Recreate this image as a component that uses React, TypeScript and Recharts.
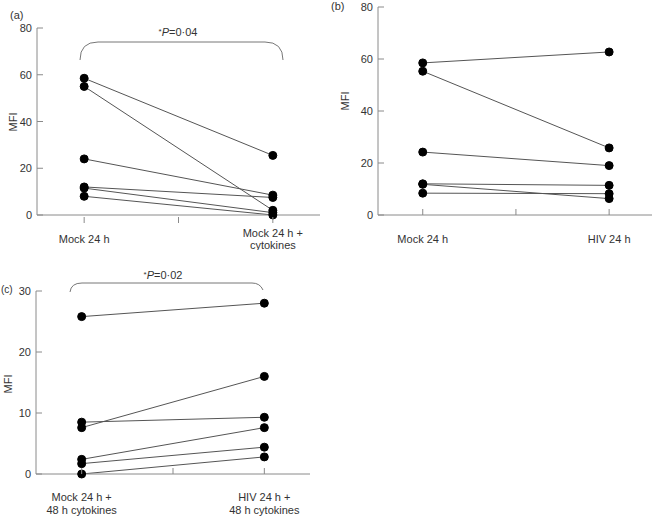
import React from 'react';
import { LineChart, Line, XAxis, YAxis } from 'recharts';

// MFI per donor, left condition -> right condition
const A_LEFT = [58.5, 55, 24, 12, 11.5, 8];
const A_RIGHT = [25.5, 2, 8.5, 7.5, 1, 0];
const A_LABELS = [['Mock 24 h'], ['Mock 24 h +', 'cytokines']];

const B_LEFT = [58.5, 55.3, 24.2, 12, 11.8, 8.4];
const B_RIGHT = [62.7, 25.8, 19, 11.4, 6.3, 8.2];
const B_LABELS = [['Mock 24 h'], ['HIV 24 h']];

const C_LEFT = [25.8, 7.6, 8.5, 2.4, 1.7, 0];
const C_RIGHT = [28, 16, 9.3, 7.6, 4.4, 2.8];
const C_LABELS = [['Mock 24 h +', '48 h cytokines'], ['HIV 24 h +', '48 h cytokines']];

const TICKS_80 = [0, 20, 40, 60, 80];
const TICKS_30 = [0, 10, 20, 30];

const FONT = '"Liberation Sans", Arial, Helvetica, sans-serif';
const AXIS = '#8a8a8a';
const TEXT = '#333';

const toRows = (left: number[], right: number[]) => {
  const a: any = { x: 1 };
  const b: any = { x: 2 };
  left.forEach((v, i) => { a['s' + i] = v; b['s' + i] = right[i]; });
  return [a, b];
};

const YTick = (props: any) => {
  const { x, y, payload } = props;
  return (
    <g>
      <line x1={x} x2={x + 6} y1={y} y2={y} stroke={AXIS} />
      <text x={x - 5} y={y + 4} textAnchor="end" fontSize={11} fill={TEXT} fontFamily={FONT}>
        {payload.value}
      </text>
    </g>
  );
};

const makeXTick = (labels: string[][], tickOut: boolean, center: number, gap: number) => (props: any) => {
  const { x, y, payload } = props;
  const lines = payload.value === 1 ? labels[0] : payload.value === 2 ? labels[1] : [];
  return (
    <g>
      {tickOut
        ? <line x1={x} x2={x} y1={y + 2} y2={y + 8} stroke={AXIS} />
        : <line x1={x} x2={x} y1={y - 6} y2={y} stroke={AXIS} />}
      {lines.map((t, i) => (
        <text key={i} x={x} y={y + center + (i - (lines.length - 1) / 2) * gap + 4}
          textAnchor="middle" fontSize={11} fill={TEXT} fontFamily={FONT}>
          {t}
        </text>
      ))}
    </g>
  );
};

interface PanelProps {
  left: number; top: number; width: number; height: number;
  marginTop: number; marginRight: number; yWidth: number; xHeight: number;
  xDomain: [number, number]; yTicks: number[];
  data: any[]; n: number; xTick: any;
}

const Panel = (p: PanelProps) => (
  <div style={{ position: 'absolute', left: p.left, top: p.top }}>
    <LineChart width={p.width} height={p.height} data={p.data}
      margin={{ top: p.marginTop, right: p.marginRight, left: 0, bottom: 0 }}>
      <XAxis dataKey="x" type="number" domain={p.xDomain} ticks={[1, 1.5, 2]}
        height={p.xHeight} tickLine={false} tickSize={0} tickMargin={0}
        stroke={AXIS} tick={p.xTick} interval={0} />
      <YAxis type="number" domain={[0, p.yTicks[p.yTicks.length - 1]]} ticks={p.yTicks}
        width={p.yWidth} tickLine={false} tickSize={0} tickMargin={0}
        stroke={AXIS} tick={<YTick />} interval={0} />
      {Array.from({ length: p.n }).map((_, i) => (
        <Line key={i} dataKey={'s' + i} stroke="#555" strokeWidth={1}
          dot={{ r: 4, fill: '#000', stroke: '#000', strokeWidth: 1 }}
          isAnimationActive={false} />
      ))}
    </LineChart>
  </div>
);

export default function App() {
  return (
    <div style={{ position: 'absolute', left: 0, top: 0, width: 657, height: 516, background: '#fff', fontFamily: FONT }}>
      <Panel left={0} top={0} width={330} height={250} marginTop={28} marginRight={10}
        yWidth={37} xHeight={35} xDomain={[0.75, 2.25]} yTicks={TICKS_80}
        data={toRows(A_LEFT, A_RIGHT)} n={A_LEFT.length}
        xTick={makeXTick(A_LABELS, true, 24, 12)} />
      <Panel left={340} top={0} width={317} height={250} marginTop={7} marginRight={5}
        yWidth={38} xHeight={35} xDomain={[0.76, 2.23]} yTicks={TICKS_80}
        data={toRows(B_LEFT, B_RIGHT)} n={B_LEFT.length}
        xTick={makeXTick(B_LABELS, false, 24, 12)} />
      <Panel left={0} top={250} width={320} height={266} marginTop={41} marginRight={10}
        yWidth={36} xHeight={42} xDomain={[0.75, 2.25]} yTicks={TICKS_30}
        data={toRows(C_LEFT, C_RIGHT)} n={C_LEFT.length}
        xTick={makeXTick(C_LABELS, false, 29.5, 13)} />
      <svg width={657} height={516} style={{ position: 'absolute', left: 0, top: 0, pointerEvents: 'none' }}
        fontFamily={FONT} fill={TEXT}>
        <text x={10} y={19} fontSize={11}>(a)</text>
        <text x={331} y={10} fontSize={11}>(b)</text>
        <text x={1} y={293} fontSize={10}>(c)</text>
        <text transform="translate(17,122) rotate(-90)" textAnchor="middle" fontSize={11}>MFI</text>
        <text transform="translate(349,101) rotate(-90)" textAnchor="middle" fontSize={11}>MFI</text>
        <text transform="translate(12,384) rotate(-90)" textAnchor="middle" fontSize={11}>MFI</text>
        <path d="M80,60 Q80,42 98,42 L265,42 Q283,42 283,60" fill="none" stroke="#777" strokeWidth={1} />
        <text x={178} y={36} textAnchor="middle" fontSize={11}>
          <tspan fontSize={8} dy={-2}>*</tspan><tspan fontStyle="italic" dy={2}>P</tspan>=0·04
        </text>
        <path d="M70,292 Q71,283 82,283 L252,283 Q260,283 263,290" fill="none" stroke="#777" strokeWidth={1} />
        <text x={163} y={279} textAnchor="middle" fontSize={11}>
          <tspan fontSize={8} dy={-2}>*</tspan><tspan fontStyle="italic" dy={2}>P</tspan>=0·02
        </text>
      </svg>
    </div>
  );
}
